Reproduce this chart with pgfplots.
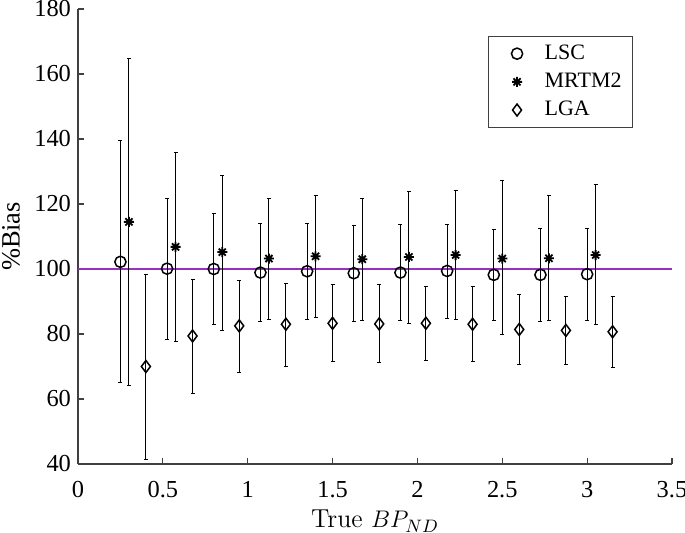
\documentclass[border=0pt]{standalone}
\usepackage{fontspec}
\setmainfont{Liberation Serif}
\newfontfamily\lmfont{Latin Modern Roman}
\usepackage{pgfplots}
\pgfplotsset{compat=1.18}
\usepackage{pgfplotstable}
\definecolor{refline}{RGB}{150,50,190}
\definecolor{axgray}{RGB}{64,64,64}
\pgfdeclareplotmark{mstar}{%
  \pgfpathmoveto{\pgfqpoint{-\pgfplotmarksize}{0pt}}\pgfpathlineto{\pgfqpoint{\pgfplotmarksize}{0pt}}%
  \pgfpathmoveto{\pgfqpoint{0pt}{-\pgfplotmarksize}}\pgfpathlineto{\pgfqpoint{0pt}{\pgfplotmarksize}}%
  \pgfpathmoveto{\pgfqpoint{-.707\pgfplotmarksize}{-.707\pgfplotmarksize}}\pgfpathlineto{\pgfqpoint{.707\pgfplotmarksize}{.707\pgfplotmarksize}}%
  \pgfpathmoveto{\pgfqpoint{-.707\pgfplotmarksize}{.707\pgfplotmarksize}}\pgfpathlineto{\pgfqpoint{.707\pgfplotmarksize}{-.707\pgfplotmarksize}}%
  \pgfusepathqstroke}
\pgfplotstableread{
x y ep em
0.25 102.2 37.2 37.2
0.525 100.1 21.6 21.7
0.8 100.0 17.0 17.0
1.075 98.9 15.1 15.1
1.35 99.3 14.7 14.8
1.625 98.7 14.8 14.9
1.9 98.9 14.8 14.9
2.175 99.4 14.3 14.6
2.45 98.2 14.0 14.2
2.725 98.2 14.2 14.4
3.0 98.4 14.0 14.2
}\lsc
\pgfplotstableread{
x y ep em
0.30 114.5 50.3 50.5
0.575 106.8 29.0 29.0
0.85 105.2 23.7 24.0
1.125 103.2 18.5 18.7
1.4 103.9 18.6 18.7
1.675 103.0 18.7 18.8
1.95 103.7 20.1 20.4
2.225 104.3 19.9 19.8
2.5 103.2 23.9 23.5
2.775 103.3 19.2 19.3
3.05 104.3 21.7 21.5
}\mrtm
\pgfplotstableread{
x y ep em
0.40 70.0 28.4 28.6
0.675 79.4 17.4 17.7
0.95 82.5 14.1 14.2
1.225 83.0 12.6 13.0
1.5 83.3 12.0 11.9
1.775 83.1 12.2 11.9
2.05 83.3 11.3 11.4
2.325 83.0 11.5 11.6
2.6 81.4 10.8 10.7
2.875 81.1 10.5 10.4
3.15 80.7 10.9 10.9
}\lga
\begin{document}
\begin{tikzpicture}
\begin{axis}[
  at={(0pt,0pt)}, anchor=south west,
  scale only axis, width=297pt, height=227.5pt,
  xmin=0, xmax=3.5, ymin=40, ymax=180,
  xtick={0,0.5,...,3.5}, ytick={40,60,...,180},
  axis x line*=bottom, axis y line*=left,
  axis line style={-, draw=axgray, line width=0.6pt},
  tick style={draw=axgray, line width=0.6pt},
  tick align=inside, major tick length=3pt,
  /pgf/number format/assume math mode=true,
  ticklabel style={font=\fontsize{12.2}{14}\selectfont},
  xticklabel style={anchor=base, yshift=-17pt, inner sep=0.5pt},
  every axis x label/.style={at={(axis description cs:0.5,0)}, anchor=base, yshift=-32pt, inner sep=0pt,
    font=\lmfont\fontsize{13}{15}\selectfont},
  every axis y label/.style={at={(axis description cs:-0.1128,0.5)}, anchor=center, rotate=90, inner sep=0pt,
    font=\fontsize{13.2}{16}\selectfont},
  xlabel={True $BP_{ND}$},
  ylabel={\%Bias},
  legend image code/.code={\path (-4pt,0pt) (18pt,0pt); \draw[#1] plot coordinates {(8pt,0pt)};},
  legend style={at={(0.690,0.9407)}, anchor=north west, draw=axgray, line width=0.6pt,
    font=\fontsize{11}{13}\selectfont, cells={anchor=west}, inner xsep=2pt, inner ysep=1.5pt,
    row sep=0pt, column sep=0pt,
    nodes={text height=8pt, text depth=2.5pt, inner ysep=1.8pt, inner xsep=3.5pt}},
  error bars/error bar style={black, line width=0.5pt},
  error bars/error mark options={rotate=90, mark size=1pt, black, line width=0.5pt},
]
\addplot[refline, line width=0.6pt, forget plot] coordinates {(0,100) (3.5,100)};
\addplot[only marks, mark=o, mark size=2.8pt, mark options={line width=0.75pt, black}, black,
  error bars/.cd, y dir=both, y explicit]
  table[x=x, y=y, y error plus=ep, y error minus=em] {\lsc};
\addplot[only marks, mark=mstar, mark size=2.5pt, mark options={line width=0.9pt, black}, black,
  error bars/.cd, y dir=both, y explicit]
  table[x=x, y=y, y error plus=ep, y error minus=em] {\mrtm};
\addplot[only marks, mark=diamond, mark size=3pt, mark options={line width=0.75pt, black}, black,
  error bars/.cd, y dir=both, y explicit]
  table[x=x, y=y, y error plus=ep, y error minus=em] {\lga};
\legend{LSC, MRTM2, LGA}
\end{axis}
\pgfresetboundingbox
\path[use as bounding box] (-39pt,-34.5pt) rectangle (303.5pt,232pt);
\end{tikzpicture}
\end{document}
